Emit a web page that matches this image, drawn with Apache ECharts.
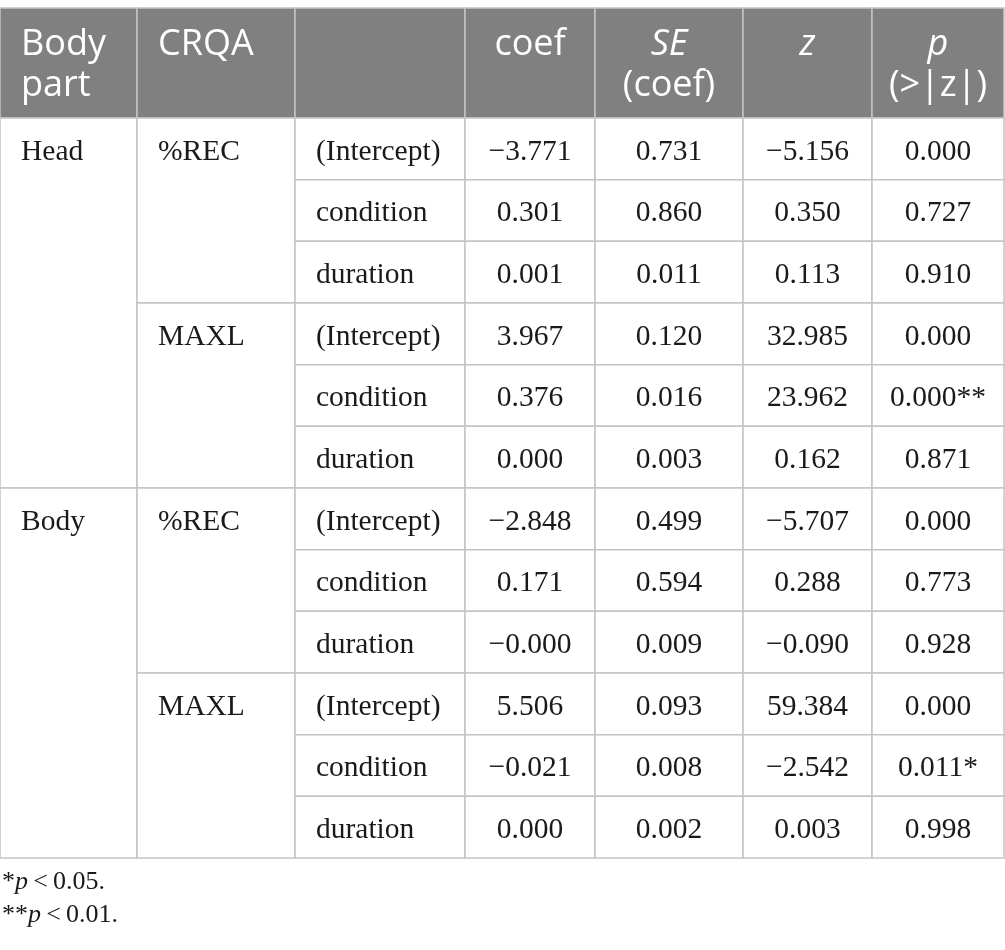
<!DOCTYPE html>
<html>
<head>
<meta charset="utf-8">
<script src="https://cdn.jsdelivr.net/npm/echarts@6/dist/echarts.min.js"></script>
<style>
  html, body { margin: 0; padding: 0; background: #fff; }
  #chart { width: 1005px; height: 950px; }
</style>
</head>
<body>
<div id="chart"></div>
<script>
// table content
const headers = ['Body\npart', 'CRQA', '', 'coef', '{i|SE}\n(coef)', '{i|z}', '{i|p}\n(>|z|)'];
const bodyParts = ['Head', 'Body'];
const crqaMeasures = ['%REC', 'MAXL'];
const terms = ['(Intercept)', 'condition', 'duration'];
const coef = [-3.771, 0.301, 0.001, 3.967, 0.376, 0.000, -2.848, 0.171, -0.000, 5.506, -0.021, 0.000];
const se = [0.731, 0.860, 0.011, 0.120, 0.016, 0.003, 0.499, 0.594, 0.009, 0.093, 0.008, 0.002];
const zVal = [-5.156, 0.350, 0.113, 32.985, 23.962, 0.162, -5.707, 0.288, -0.090, 59.384, -2.542, 0.003];
const pVal = [0.000, 0.727, 0.910, 0.000, 0.000, 0.871, 0.000, 0.773, 0.928, 0.000, 0.011, 0.998];
const stars = ['', '', '', '', '**', '', '', '', '', '', '*', ''];
const footnotes = ['*{i|p}\u2009<\u20090.05.', '**{i|p}\u2009<\u20090.01.'];

// layout (column edges in px along the hidden x axis)
const colEdges = [0, 137, 295, 465, 595, 743, 872, 1004];
const headerRows = 110 / 61.67;
const nRows = coef.length;

function fmt(v) {
  const neg = v < 0 || Object.is(v, -0);
  return (neg ? '\u2212' : '') + Math.abs(v).toFixed(3);
}

// build cells: [col, rowStart, rowSpan, text, kind]
const cells = [];
headers.forEach((h, c) => cells.push([c, -headerRows, headerRows, h, 'head']));
const perPart = crqaMeasures.length * terms.length;
bodyParts.forEach((bp, i) => {
  cells.push([0, i * perPart, perPart, bp, 'left']);
  crqaMeasures.forEach((m, j) => {
    const r0 = i * perPart + j * terms.length;
    cells.push([1, r0, terms.length, m, 'left']);
    terms.forEach((t, k) => cells.push([2, r0 + k, 1, t, 'left']));
  });
});
for (let r = 0; r < nRows; r++) {
  cells.push([3, r, 1, fmt(coef[r]), 'num']);
  cells.push([4, r, 1, fmt(se[r]), 'num']);
  cells.push([5, r, 1, fmt(zVal[r]), 'num']);
  cells.push([6, r, 1, fmt(pVal[r]) + stars[r], 'num']);
}

const chart = echarts.init(document.getElementById('chart'));
const serif = '"Liberation Serif", "DejaVu Serif", serif';
const sans = '"Open Sans", "Noto Sans", sans-serif';

chart.setOption({
  animation: false,
  grid: { left: 0, right: 0, top: 8, bottom: 92 },
  xAxis: { type: 'value', min: 0, max: 1005, show: false },
  yAxis: { type: 'value', min: -headerRows, max: nRows, inverse: true, show: false },
  series: [{
    type: 'custom',
    coordinateSystem: 'cartesian2d',
    data: cells.map((c, i) => [c[0], c[1], c[2], i]),
    renderItem: function (params, api) {
      const cell = cells[api.value(3)];
      const col = cell[0], r0 = cell[1], span = cell[2], text = cell[3], kind = cell[4];
      const p0 = api.coord([colEdges[col], r0]);
      const p1 = api.coord([colEdges[col + 1], r0 + span]);
      const x = p0[0], y = p0[1], w = p1[0] - p0[0], h = p1[1] - p0[1];
      const children = [{
        type: 'rect',
        shape: { x: x, y: y, width: w, height: h },
        style: { fill: kind === 'head' ? '#808080' : '#ffffff', stroke: '#c4c4c4', lineWidth: 1.5 }
      }];
      if (kind === 'head') {
        children.push({
          type: 'text',
          x: col < 3 ? x + 21 : x + w / 2,
          y: y + 16,
          style: {
            text: text, fill: '#ffffff', font: '36px ' + sans, lineHeight: 41,
            align: col < 3 ? 'left' : 'center', verticalAlign: 'top',
            rich: { i: { fontStyle: 'italic', fontSize: 36, fontFamily: sans, fill: '#ffffff', lineHeight: 41 } }
          }
        });
      } else {
        const lineH = (api.coord([0, 1])[1] - api.coord([0, 0])[1]);
        children.push({
          type: 'text',
          x: kind === 'left' ? x + 21 : x + w / 2,
          y: y + lineH / 2 + 3,
          style: {
            text: text, fill: '#1a1a1a', font: '29.5px ' + serif,
            align: kind === 'left' ? 'left' : 'center', verticalAlign: 'middle'
          }
        });
      }
      return { type: 'group', children: children };
    }
  }],
  graphic: footnotes.map((f, i) => ({
    type: 'text',
    left: 2,
    top: 869 + i * 33,
    style: {
      text: f, fill: '#1a1a1a', font: '26px ' + serif,
      rich: { i: { fontStyle: 'italic', fontSize: 26, fontFamily: serif, fill: '#1a1a1a' } }
    }
  }))
});
</script>
</body>
</html>
